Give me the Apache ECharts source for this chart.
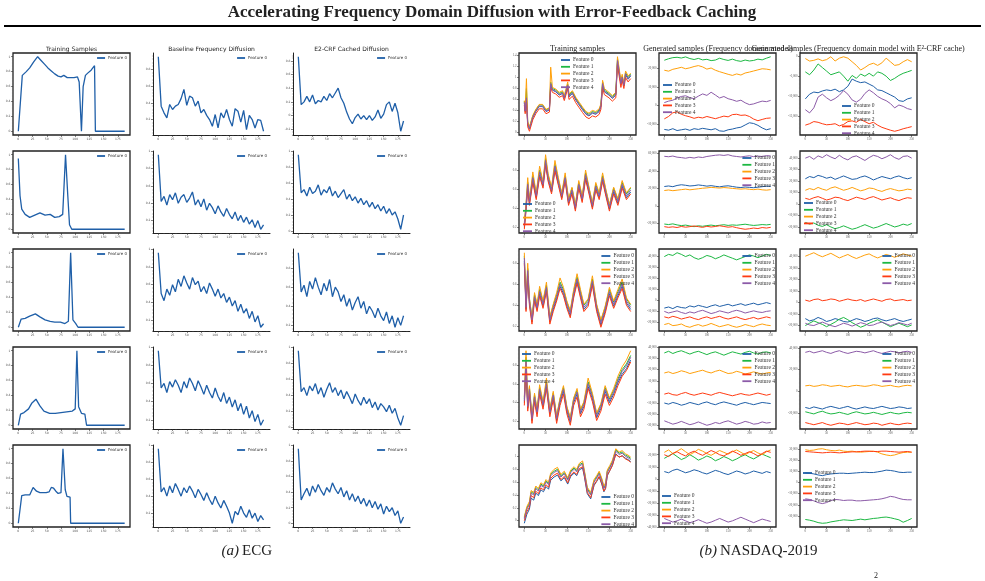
<!DOCTYPE html>
<html>
<head>
<meta charset="utf-8">
<script src="https://cdn.jsdelivr.net/npm/echarts@6/dist/echarts.min.js"></script>
<style>
html, body { margin: 0; padding: 0; background: #fff; }
#main { width: 985px; height: 581px; }
</style>
</head>
<body>
<div id="main"></div>
<script>
// ---------- data: ECG (left block) ----------
var ecgTicks = [0, 25, 50, 75, 100, 125, 150, 175];
var ecgSteps = [0,5,10,15,20,25,30,35,40,45,50,55,60,65,70,75,80,85,90,95,100,105,110,115,120,125,130,135,140,145,150,155,160,165,170,175,180,185];

var ecgTrainX1 = [0,7,10,14,20,27,34,40,46,52,58,64,70,75,80,86,92,98,104,107,111,114,118,122,128,134,135.5,187];
var ecgTrainY1 = [0.0,0.75,0.77,0.8,0.85,0.93,1.0,0.95,0.9,0.85,0.81,0.77,0.74,0.73,0.75,0.72,0.72,0.72,0.73,0.66,0.0,0.6,0.75,0.78,0.82,0.88,0.0,0.0];
var ecgTrainX2 = [0,3,6,12,20,29,38,47,56,64,72,78,83,87,90,94,187];
var ecgTrainY2 = [0.95,0.45,0.27,0.2,0.16,0.19,0.22,0.19,0.2,0.16,0.17,0.2,1.0,0.45,0.06,0.0,0.0];
var ecgTrainX3 = [0,5,12,20,30,38,47,56,64,74,82,88,92,96,101,105,187];
var ecgTrainY3 = [0.0,0.11,0.12,0.15,0.18,0.14,0.1,0.08,0.07,0.07,0.05,0.08,1.0,0.1,0.05,0.0,0.0];
var ecgTrainX4 = [0,4,10,18,24,31,38,45,55,65,75,85,95,100,103,106,111,117,120,187];
var ecgTrainY4 = [0.0,0.15,0.17,0.22,0.3,0.35,0.26,0.19,0.16,0.16,0.17,0.18,0.19,0.22,1.0,0.25,0.16,0.15,0.0,0.0];
var ecgTrainX5 = [0,6,12,20,26,32,38,44,49,54,58,62,66,70,75,78.5,82.5,85.5,91,92,187];
var ecgTrainY5 = [0.0,0.37,0.38,0.38,0.48,0.43,0.41,0.41,0.41,0.42,0.48,0.47,0.43,0.4,0.41,1.0,0.45,0.36,0.35,0.0,0.0];

var ecgBase1 = [0.95,0.36,0.28,0.22,0.38,0.32,0.36,0.38,0.45,0.56,0.37,0.48,0.46,0.36,0.42,0.28,0.32,0.25,0.2,0.12,0.26,0.1,0.28,0.22,0.32,0.2,0.12,0.33,0.3,0.17,0.31,0.08,0.25,0.2,0.1,0.2,0.19,0.06];
var ecgBase2 = [0.96,0.42,0.48,0.38,0.5,0.44,0.52,0.4,0.47,0.5,0.41,0.46,0.53,0.38,0.44,0.36,0.45,0.32,0.4,0.35,0.28,0.37,0.3,0.25,0.34,0.27,0.22,0.3,0.2,0.26,0.18,0.24,0.16,0.21,0.12,0.2,0.1,0.15];
var ecgBase3 = [0.96,0.5,0.42,0.55,0.48,0.6,0.52,0.66,0.58,0.7,0.62,0.55,0.68,0.6,0.64,0.52,0.58,0.5,0.62,0.55,0.47,0.55,0.45,0.5,0.4,0.46,0.36,0.42,0.3,0.38,0.28,0.33,0.22,0.3,0.18,0.25,0.12,0.16];
var ecgBase4 = [0.96,0.55,0.6,0.5,0.62,0.56,0.64,0.58,0.5,0.62,0.55,0.66,0.6,0.52,0.63,0.56,0.48,0.58,0.5,0.44,0.55,0.46,0.4,0.5,0.38,0.45,0.34,0.42,0.3,0.38,0.26,0.35,0.22,0.3,0.18,0.26,0.14,0.2];
var ecgBase5 = [0.96,0.45,0.5,0.4,0.52,0.44,0.55,0.48,0.4,0.5,0.44,0.52,0.46,0.38,0.48,0.42,0.35,0.44,0.36,0.3,0.4,0.32,0.26,0.35,0.28,0.2,0.08,0.22,0.18,0.28,0.2,0.15,0.24,0.14,0.2,0.1,0.17,0.12];

var ecgCrf1 = [0.86,0.16,0.2,0.28,0.2,0.3,0.17,0.22,0.2,0.28,0.22,0.32,0.26,0.33,0.4,0.26,0.18,0.05,-0.05,-0.12,-0.03,0.02,-0.05,0.0,-0.06,0.0,-0.07,-0.02,0.08,-0.04,0.02,0.16,0.2,0.06,0.18,0.04,-0.23,-0.08];
var ecgCrf2 = [0.96,0.48,0.52,0.44,0.55,0.47,0.5,0.58,0.45,0.52,0.48,0.56,0.44,0.5,0.42,0.47,0.52,0.4,0.46,0.38,0.43,0.35,0.41,0.33,0.38,0.3,0.36,0.28,0.33,0.25,0.31,0.22,0.28,0.2,0.24,0.15,0.02,0.2];
var ecgCrf3 = [0.96,0.55,0.62,0.5,0.66,0.58,0.7,0.6,0.52,0.64,0.56,0.68,0.5,0.6,0.55,0.45,0.52,0.4,0.48,0.36,0.44,0.5,0.38,0.45,0.32,0.4,0.35,0.28,0.38,0.3,0.25,0.34,0.22,0.3,0.18,0.28,0.2,0.3];
var ecgCrf4 = [0.96,0.45,0.5,0.4,0.52,0.46,0.55,0.42,0.5,0.38,0.48,0.56,0.44,0.5,0.4,0.47,0.36,0.45,0.38,0.3,0.42,0.34,0.28,0.38,0.3,0.36,0.25,0.32,0.22,0.3,0.26,0.2,0.28,0.18,0.24,0.12,0.03,0.15];
var ecgCrf5 = [0.96,0.3,0.38,0.45,0.35,0.48,0.4,0.5,0.42,0.36,0.46,0.4,0.52,0.44,0.38,0.46,0.34,0.42,0.3,0.38,0.28,0.35,0.25,0.32,0.22,0.3,0.2,0.28,0.18,0.25,0.12,0.22,0.15,0.2,0.1,0.16,0.0,0.08];

// ---------- data: NASDAQ-2019 (right block), features 0..4 ----------
var featureNames = ['Feature 0', 'Feature 1', 'Feature 2', 'Feature 3', 'Feature 4'];
var nqTicks = [0, 50, 100, 150, 200, 250];
var nqSteps = [0,10,20,30,40,50,60,70,80,90,100,110,120,130,140,150,160,170,180,190,200,210,220,230,240,250];

var nqTrainX1 = [0,2,5,8,12,20,27,35,43,51,59,62,66,74,82,90,94,102,105,113,121,129,137,145,152,160,168,176,180,184,188,199,207,215,219,223,227,230,234,238,244,250];
var nqTrain1 = [
  [0.54,0.38,0.6,0.15,0.06,0.27,0.38,0.47,0.47,0.38,0.41,0.86,0.77,0.74,0.68,0.71,0.62,0.84,0.65,0.71,0.59,0.5,0.41,0.33,0.3,0.35,0.33,0.38,0.47,0.86,0.74,0.68,0.62,0.68,1.28,1.08,0.88,1.0,0.85,1.05,0.97,1.03],
  [0.57,0.4,0.8,0.18,0.09,0.3,0.41,0.5,0.5,0.41,0.44,0.92,0.8,0.77,0.71,0.74,0.65,0.88,0.68,0.74,0.62,0.53,0.44,0.36,0.33,0.38,0.36,0.41,0.5,0.92,0.77,0.71,0.65,0.71,1.34,1.12,0.91,1.03,0.88,1.09,1.0,1.06],
  [0.58,0.42,0.98,0.2,0.1,0.31,0.42,0.51,0.51,0.42,0.45,1.19,0.82,0.79,0.73,0.76,0.67,0.92,0.7,0.76,0.64,0.55,0.46,0.38,0.35,0.4,0.38,0.43,0.52,0.95,0.8,0.73,0.67,0.73,1.38,1.16,0.94,1.06,0.9,1.12,1.03,1.08],
  [0.5,0.34,0.56,0.1,0.02,0.23,0.34,0.43,0.43,0.34,0.37,0.82,0.73,0.7,0.64,0.67,0.58,0.8,0.6,0.66,0.54,0.45,0.36,0.28,0.25,0.3,0.28,0.33,0.42,0.82,0.69,0.63,0.57,0.63,1.24,1.02,0.82,0.95,0.8,1.0,0.92,0.98],
  [0.55,0.39,0.63,0.16,0.07,0.28,0.39,0.48,0.48,0.39,0.42,0.89,0.78,0.75,0.69,0.72,0.63,0.86,0.66,0.72,0.6,0.51,0.42,0.34,0.31,0.36,0.34,0.39,0.48,0.89,0.75,0.69,0.63,0.69,1.31,1.1,0.89,1.01,0.86,1.07,0.98,1.04]
];
var nqTrainX2 = [0,4,8,12,16,20,28,36,44,50,56,64,72,80,88,96,104,112,120,128,136,144,152,160,168,176,184,192,200,210,220,230,240,250];
var nqTrain2 = [
  [0.2,0.39,0.62,0.45,0.57,0.69,0.51,0.75,0.63,0.87,0.7,0.57,0.81,0.66,0.51,0.7,0.45,0.57,0.39,0.63,0.48,0.72,0.57,0.41,0.61,0.51,0.7,0.54,0.39,0.57,0.45,0.63,0.51,0.57],
  [0.23,0.43,0.67,0.49,0.61,0.74,0.55,0.8,0.67,0.92,0.74,0.61,0.86,0.7,0.55,0.74,0.49,0.61,0.43,0.67,0.52,0.77,0.61,0.45,0.65,0.55,0.74,0.58,0.43,0.61,0.49,0.67,0.55,0.61],
  [0.25,0.45,0.72,0.5,0.63,0.78,0.56,0.84,0.68,0.96,0.76,0.62,0.9,0.72,0.56,0.77,0.5,0.62,0.44,0.69,0.53,0.8,0.62,0.46,0.67,0.56,0.77,0.59,0.44,0.62,0.5,0.69,0.56,0.62],
  [0.18,0.37,0.6,0.43,0.55,0.67,0.49,0.73,0.61,0.85,0.68,0.55,0.79,0.64,0.49,0.68,0.43,0.55,0.37,0.61,0.46,0.7,0.55,0.39,0.59,0.49,0.68,0.52,0.37,0.55,0.43,0.61,0.49,0.55],
  [0.22,0.41,0.65,0.47,0.59,0.72,0.53,0.78,0.65,0.9,0.72,0.59,0.84,0.68,0.53,0.72,0.47,0.59,0.41,0.65,0.5,0.75,0.59,0.43,0.63,0.53,0.72,0.56,0.41,0.59,0.47,0.65,0.53,0.59]
];
var nqTrainX3 = [0,4,8,12,18,24,30,36,44,52,60,68,76,84,92,100,108,116,124,132,140,150,160,170,180,190,200,210,220,230,240,250];
var nqTrain3 = [
  [0.82,0.36,0.7,0.42,0.24,0.46,0.36,0.51,0.39,0.55,0.24,0.36,0.46,0.58,0.51,0.39,0.3,0.49,0.63,0.49,0.36,0.41,0.61,0.36,0.21,0.34,0.51,0.39,0.49,0.58,0.42,0.36],
  [0.87,0.4,0.75,0.46,0.28,0.5,0.4,0.55,0.43,0.59,0.28,0.4,0.5,0.62,0.55,0.43,0.34,0.53,0.67,0.53,0.4,0.45,0.65,0.4,0.25,0.38,0.55,0.43,0.53,0.62,0.46,0.4],
  [0.9,0.42,0.8,0.47,0.28,0.52,0.41,0.58,0.44,0.62,0.29,0.41,0.52,0.66,0.57,0.44,0.35,0.55,0.7,0.55,0.41,0.46,0.68,0.41,0.26,0.39,0.57,0.44,0.55,0.65,0.47,0.41],
  [0.8,0.34,0.68,0.4,0.22,0.44,0.34,0.49,0.37,0.53,0.22,0.34,0.44,0.56,0.49,0.37,0.28,0.47,0.61,0.47,0.34,0.39,0.59,0.34,0.19,0.32,0.49,0.37,0.47,0.56,0.4,0.34],
  [0.85,0.38,0.73,0.44,0.26,0.48,0.38,0.53,0.41,0.57,0.26,0.38,0.48,0.6,0.53,0.41,0.32,0.51,0.65,0.51,0.38,0.43,0.63,0.38,0.23,0.36,0.53,0.41,0.51,0.6,0.44,0.38]
];
var nqTrainX4 = [0,4,8,12,18,24,30,36,44,52,60,68,76,84,92,100,108,116,124,132,140,150,160,170,180,190,200,210,220,230,240,250];
var nqTrain4 = [
  [0.4,0.8,0.34,0.52,0.21,0.44,0.28,0.52,0.36,0.57,0.28,0.46,0.21,0.4,0.52,0.31,0.19,0.4,0.49,0.28,0.36,0.57,0.44,0.24,0.34,0.52,0.4,0.49,0.61,0.7,0.76,0.85],
  [0.44,0.88,0.38,0.56,0.25,0.48,0.32,0.56,0.4,0.62,0.32,0.5,0.25,0.44,0.56,0.35,0.23,0.44,0.53,0.32,0.4,0.62,0.48,0.28,0.38,0.56,0.44,0.53,0.65,0.75,0.81,0.9],
  [0.46,0.95,0.39,0.58,0.26,0.5,0.33,0.59,0.41,0.66,0.33,0.52,0.26,0.45,0.58,0.36,0.24,0.45,0.55,0.33,0.41,0.66,0.5,0.29,0.39,0.58,0.45,0.55,0.68,0.78,0.85,0.95],
  [0.37,0.78,0.31,0.49,0.18,0.41,0.25,0.49,0.33,0.55,0.25,0.43,0.18,0.37,0.49,0.28,0.16,0.37,0.46,0.25,0.33,0.55,0.41,0.21,0.31,0.49,0.37,0.46,0.58,0.68,0.74,0.83],
  [0.42,0.85,0.36,0.54,0.23,0.46,0.3,0.54,0.38,0.6,0.3,0.48,0.23,0.42,0.54,0.33,0.21,0.42,0.51,0.3,0.38,0.6,0.46,0.26,0.36,0.54,0.42,0.51,0.63,0.73,0.79,0.88]
];
var nqTrainX5 = [0,6,12,16,22,27,33,39,45,51,57,62,70,78,86,94,102,109,117,123,129,137,141,148,156,164,170,176,182,187,191,195,201,207,215,223,230,238,244,250];
var nqTrain5 = [
  [-0.04,0.1,0.18,0.35,0.32,0.43,0.39,0.48,0.45,0.53,0.49,0.63,0.68,0.71,0.62,0.67,0.57,0.69,0.74,0.7,0.79,0.82,0.69,0.42,0.34,0.55,0.61,0.68,0.57,0.45,0.5,0.7,0.78,0.86,1.04,0.99,1.01,0.97,0.95,0.92],
  [0.05,0.2,0.27,0.45,0.42,0.52,0.48,0.57,0.54,0.62,0.58,0.72,0.77,0.8,0.7,0.75,0.65,0.77,0.82,0.78,0.87,0.9,0.77,0.5,0.42,0.62,0.68,0.75,0.64,0.52,0.57,0.77,0.84,0.92,1.1,1.05,1.07,1.02,1.0,0.97],
  [0.06,0.22,0.3,0.47,0.44,0.54,0.5,0.59,0.56,0.64,0.6,0.74,0.8,0.83,0.72,0.77,0.67,0.79,0.84,0.8,0.89,0.93,0.79,0.52,0.44,0.64,0.7,0.77,0.66,0.54,0.59,0.79,0.86,0.94,1.12,1.07,1.09,1.04,1.02,0.99],
  [0.0,0.14,0.21,0.39,0.36,0.46,0.42,0.51,0.48,0.56,0.52,0.66,0.71,0.74,0.64,0.69,0.59,0.71,0.76,0.72,0.81,0.84,0.71,0.44,0.36,0.56,0.62,0.69,0.58,0.46,0.51,0.71,0.78,0.86,1.03,0.99,1.01,0.96,0.94,0.91],
  [0.03,0.18,0.25,0.43,0.4,0.5,0.46,0.55,0.52,0.6,0.56,0.7,0.75,0.78,0.68,0.73,0.63,0.75,0.8,0.76,0.85,0.88,0.75,0.48,0.4,0.6,0.66,0.73,0.62,0.5,0.55,0.75,0.82,0.9,1.08,1.03,1.05,1.0,0.98,0.95]
];

// generated samples, frequency-domain model
var nqFreq1 = [
  [-13000,-13400,-12600,-13600,-13200,-12800,-13500,-12600,-13000,-12400,-12800,-13200,-12600,-13800,-14000,-13200,-12800,-12200,-11800,-10600,-9400,-9800,-10800,-12200,-13200,-12600],
  [24400,25200,25800,26000,25600,26200,25300,24800,25400,24600,24900,24200,24500,25500,24800,24300,25000,24200,23800,24500,24000,24300,25000,24600,25500,26300],
  [19000,18500,19500,20000,20600,19800,20300,21000,21500,20800,19600,20200,19000,18200,17500,16800,16200,17000,16400,17500,18000,18600,19200,19800,19600,19200],
  [-7300,-6000,-4000,-3500,-4800,-5600,-6200,-7000,-6400,-6800,-6000,-6600,-7200,-6500,-5800,-6200,-5000,-4800,-5400,-5200,-6000,-7400,-8300,-7600,-7000,-6800],
  [1500,2300,2800,4000,4800,5200,4200,3600,5000,6200,5400,7100,5600,4000,4800,3600,3000,2200,2800,1400,400,800,1600,2300,2000,2700]
];
var nqFreq2 = [
  [22400,23000,22200,23600,24400,23800,23000,23400,24200,23600,22800,23400,22600,22000,22800,23200,22400,21600,21200,21800,21400,21000,21600,22200,22800,22400],
  [-20600,-21200,-20400,-21600,-22400,-21800,-22800,-23600,-22600,-23200,-22400,-21800,-22600,-22000,-21400,-22200,-21600,-22000,-21400,-20800,-21600,-22200,-21800,-21200,-21600,-21000],
  [17800,18400,17600,18200,18800,19400,18600,19200,19800,20400,20800,21400,21000,20600,21200,20800,20200,19800,19400,19800,19200,18800,19400,18600,18200,18800],
  [-23600,-24400,-23800,-24600,-23400,-24200,-23600,-22800,-23600,-24400,-23200,-24000,-23400,-22600,-23400,-24200,-23600,-24800,-25800,-26600,-26000,-25200,-25800,-24600,-25200,-24400],
  [57000,56500,57300,56000,55500,54800,55800,55000,56200,55600,56800,57500,58200,58600,58000,58800,57400,56800,56200,57000,57600,56600,57200,56800,57800,57400]
];
var nqFreq3 = [
  [-7000,-6000,-7500,-5500,-6500,-7000,-5000,-6000,-4500,-5500,-6500,-5000,-4000,-5500,-4500,-3500,-5000,-4000,-3000,-4500,-3500,-2500,-4000,-3000,-2000,-3000],
  [40000,42000,41000,43500,42000,40000,41500,39000,37500,39000,41000,40000,38000,39500,41500,40000,38500,37000,38500,40000,41500,40500,39000,40500,42000,41000],
  [-22000,-21000,-23000,-22500,-21500,-23500,-24500,-23000,-22000,-23500,-22500,-21000,-22500,-24000,-23000,-22000,-23500,-24500,-23500,-22000,-23000,-24000,-22500,-21500,-22500,-23000],
  [-15000,-16000,-14500,-15500,-17000,-16000,-15000,-16500,-17500,-16000,-15000,-16500,-15500,-14500,-16000,-17000,-16000,-15000,-16500,-17500,-16500,-15500,-17000,-16000,-15000,-16000],
  [-10000,-11500,-10500,-9500,-11000,-12000,-10500,-11500,-10000,-9000,-10500,-12000,-11000,-9500,-10500,-11500,-10000,-9000,-10000,-11500,-10500,-9500,-10500,-11000,-10000,-9500]
];
var nqFreq4 = [
  [-10000,-11000,-9500,-10500,-12000,-11000,-9500,-10500,-11500,-10000,-9000,-10500,-11500,-10000,-9000,-10000,-11000,-12000,-10500,-9500,-10500,-11500,-10500,-9500,-10000,-10500],
  [35000,36500,34500,36000,37000,35500,34000,35500,36500,35000,33500,35000,36000,34500,33000,34500,36000,35000,34000,35500,36500,35000,34000,35500,36000,35000],
  [17000,18000,16500,17500,19000,18000,16500,17500,18500,19500,18000,17000,18500,19500,18000,16500,17000,18500,17500,16000,17000,18000,17000,16000,17000,17500],
  [-2000,-1000,-2500,-3000,-1500,-500,-2000,-3000,-2000,-1000,-2000,-3000,-1500,-500,-1500,-2500,-3500,-2500,-1500,-2500,-3000,-2000,-1000,-2000,-3000,-2000],
  [-26000,-27500,-29000,-28000,-26500,-28000,-29500,-28500,-27000,-28500,-30000,-29000,-27500,-28500,-27000,-26000,-27500,-29000,-28000,-26500,-27500,-29000,-28500,-27000,-28000,-27500]
];
var nqFreq5 = [
  [6000,5000,7000,8000,6500,5000,6000,7500,6500,5000,4000,5500,7000,6000,4500,3500,5000,6500,5500,4000,5000,6500,5500,4500,6000,5000],
  [17000,19000,21000,18500,16000,17500,20000,18000,15500,17000,19000,17500,15000,16500,18500,17000,15000,16500,18500,20000,18000,16500,18500,20500,19000,17500],
  [22000,24000,21000,23000,25000,22500,20000,22000,24500,23000,21000,19500,21500,23500,22000,20500,22500,24000,22000,20000,22000,23500,21500,20000,22500,24000],
  [20000,18500,21000,22500,20500,19000,21500,23000,21000,19500,21500,23500,22000,20000,19000,21000,23000,21500,19500,21000,22500,21000,19000,21000,23000,22000],
  [-33000,-34500,-36000,-35000,-33500,-35000,-36500,-35500,-34000,-35500,-37000,-36000,-34500,-33000,-34500,-36000,-35000,-33500,-32000,-33500,-35000,-36500,-35000,-33500,-34500,-35500]
];

// generated samples, frequency-domain model with E2-CRF cache
var nqCrf1 = [
  [-10700,-9510,-8970,-9150,-8700,-8430,-8610,-8250,-8880,-8430,-7520,-5710,-6250,-6610,-6430,-6980,-7520,-8430,-8610,-9150,-9690,-10240,-11140,-11330,-10700,-10420],
  [-3900,-4620,-3440,-1900,-2810,-3710,-4620,-4260,-3900,-4980,-6250,-4800,-5530,-4440,-4980,-4260,-4980,-3900,-4260,-4980,-6070,-5530,-4800,-4260,-3900,-3530],
  [-540,-1180,-1000,-630,-1090,-815,-90,-1180,-450,-100,-450,-1360,-2270,-3440,-2810,-2080,-1720,-2270,-1630,-450,-1360,-2270,-2080,-1360,-815,-1360],
  [-17300,-16940,-16400,-16580,-16940,-17210,-17120,-16940,-17490,-17120,-16400,-16220,-16580,-15860,-16400,-16940,-16580,-17300,-17850,-18210,-18570,-18840,-18570,-18210,-17940,-17670],
  [-13410,-14220,-12960,-10240,-9510,-10420,-11140,-10600,-9780,-8610,-9510,-10960,-11510,-10780,-9330,-8430,-9150,-10060,-10690,-11140,-11870,-12960,-12230,-12590,-13140,-13410]
];
var nqCrf2 = [
  [22000,24000,23000,25000,24000,22500,23500,21500,23000,24500,23000,21500,22000,23500,24500,23000,21000,22500,24000,23000,22000,23500,24500,23000,22000,23000],
  [-16000,-17500,-16500,-18500,-19500,-18000,-20000,-21500,-20500,-19000,-20500,-22000,-21000,-19500,-18000,-19500,-21000,-20000,-18500,-17000,-18500,-20000,-19000,-17500,-18500,-17000],
  [12000,13500,12500,14500,13000,12000,14000,15000,13500,12000,13000,14500,13000,11500,12500,14000,13500,12000,11000,12500,13500,12500,11500,12000,13000,12500],
  [5000,4000,5500,6500,5000,3500,4500,6000,5500,4000,3000,4500,6000,5000,4000,5500,6500,5000,3500,4500,5500,4000,3000,4500,5500,5000],
  [40000,41500,39000,42000,40500,43000,41000,39500,42500,40000,38500,41000,42000,40000,38000,40500,42500,41500,39500,41000,43000,40500,39000,41500,42000,40000]
];
var nqCrf3 = [
  [-14000,-16000,-15000,-13000,-14500,-16500,-15500,-14000,-15000,-16500,-17000,-15500,-14000,-15000,-16500,-15500,-14000,-13500,-15000,-16000,-15000,-14000,-15500,-16500,-15500,-14500],
  [-20000,-18000,-16000,-17500,-19000,-21000,-19000,-17000,-14500,-13000,-15000,-17500,-19500,-21500,-20000,-18000,-16500,-15000,-17000,-19000,-21000,-19500,-18000,-19500,-21000,-19500],
  [40000,41500,43000,41000,39500,41000,42500,40500,38500,40000,41500,39500,38000,39500,41000,42000,40000,38500,40000,41500,40500,39000,40500,42000,41000,40000],
  [2000,1000,2500,3000,1500,2000,3000,2500,1000,2000,3000,2000,1500,2500,1000,2000,3000,2000,1000,2500,3000,1500,2000,2500,1500,2000],
  [-18000,-19500,-20000,-18500,-17000,-18500,-20000,-21000,-19500,-18000,-19000,-20500,-19000,-17500,-18500,-20000,-19500,-18000,-17000,-18500,-20000,-19000,-17500,-18500,-19500,-18000]
];
var nqCrf4 = [
  [-15000,-16000,-14500,-15500,-16500,-15000,-14000,-15000,-16000,-15000,-14000,-15500,-16500,-15500,-14500,-15500,-16000,-15000,-14000,-15000,-16000,-15500,-14500,-15000,-16000,-15500],
  [-19000,-20000,-21000,-19500,-18500,-20000,-21000,-20500,-19500,-20500,-21500,-20000,-19000,-20000,-21000,-20500,-19500,-20500,-21500,-20500,-19500,-20500,-21000,-20000,-19500,-20000],
  [5000,5500,4500,5000,6000,5500,4500,5000,5500,4500,4000,5000,5500,5000,4500,5000,6000,5500,4500,5000,5500,4500,4000,5000,5500,5000],
  [-29000,-30000,-31000,-30000,-29000,-30500,-31500,-30500,-29500,-30000,-31000,-30000,-29000,-30000,-31000,-30500,-29500,-30000,-31500,-30500,-29500,-30500,-31000,-30000,-29500,-30000],
  [36000,37000,35500,36500,37500,36000,35000,36500,37500,36000,35000,36000,37000,36500,35500,36500,37500,36000,35000,36000,37000,36500,35500,36500,37000,36000]
];
var nqCrf5 = [
  [8680,8370,7750,6820,6200,7130,7750,8060,8370,8370,8060,8370,8680,8990,9300,8990,8990,9610,10230,11160,10850,10230,9300,8990,9300,9300],
  [-33170,-33790,-34720,-35960,-36580,-36270,-35340,-34720,-34100,-33480,-33790,-34100,-33480,-32860,-33480,-32860,-32240,-31930,-31310,-31000,-31620,-32550,-33480,-35650,-34100,-32240],
  [29450,28830,29140,30070,30380,29450,28830,28520,29140,28210,27900,28210,27590,27280,27590,27900,28210,27280,25730,24800,24180,24800,26040,26970,27280,27280],
  [27900,27590,27280,26970,26660,26970,27280,26970,26660,26970,27280,27590,27590,27900,28210,28210,27900,27900,28210,28210,27900,27590,27280,27590,27900,27280],
  [-14570,-15190,-16430,-17980,-18910,-17980,-16120,-15190,-15500,-16120,-15810,-15810,-16430,-16430,-16120,-15810,-15500,-15190,-14570,-13640,-12400,-13020,-14260,-15190,-15500,-15500]
];

// ---------- layout / styling ----------
var W = 985;
var featureColors = ['#1f5fa8', '#1db843', '#ffa00a', '#ff3b12', '#8c5ba8'];
var ecgColor = '#1f5fa8';
var sansFont = '"DejaVu Sans", sans-serif';
var serifFont = '"Liberation Serif", "DejaVu Serif", serif';
var rowTop = [53, 151, 249, 347, 445];
var ecgLeft = [13, 153, 293];
var nqLeft = [519, 659, 800];
var panelW = 117, panelH = 82;

var grids = [], xAxes = [], yAxes = [], series = [], legends = [];

function niceTicks(lo, hi) {
  var raw = (hi - lo) / 5;
  var mag = Math.pow(10, Math.floor(Math.log10(raw)));
  var n = raw / mag;
  var step = (n < 1.5 ? 1 : n < 3 ? 2 : n < 7 ? 5 : 10) * mag;
  var out = [];
  for (var v = Math.ceil(lo / step) * step; v <= hi + 1e-9; v += step) out.push(+v.toFixed(6));
  return out;
}

function axisStyle(ticks, boxed, font) {
  return {
    axisLine: { show: !boxed, onZero: false, lineStyle: { color: '#222', width: 1 } },
    axisTick: { show: true, length: 2, customValues: ticks, lineStyle: { color: '#333', width: 0.6 } },
    minorTick: { show: true, splitNumber: 5, length: 1.1, lineStyle: { color: '#666', width: 0.4 } },
    axisLabel: { customValues: ticks, fontSize: 3, color: '#555', margin: 2.5, fontFamily: font },
    splitLine: { show: false }
  };
}

function addPanel(p) {
  var idx = grids.length;
  grids.push({
    left: p.left, top: p.top, width: panelW, height: panelH,
    show: p.boxed, borderColor: '#222', borderWidth: p.boxed ? 1.3 : 0,
    backgroundColor: 'transparent'
  });
  var lo = Infinity, hi = -Infinity;
  p.lines.forEach(function (l) {
    l.ys.forEach(function (v) { if (v < lo) lo = v; if (v > hi) hi = v; });
  });
  var pad = (hi - lo) * 0.05;
  var yMin = lo - pad, yMax = hi + pad;
  xAxes.push(Object.assign({ gridIndex: idx, type: 'value', min: p.xMin, max: p.xMax },
    axisStyle(p.xTicks, p.boxed, p.font)));
  yAxes.push(Object.assign({ gridIndex: idx, type: 'value', min: yMin, max: yMax },
    axisStyle(niceTicks(yMin, yMax), p.boxed, p.font)));
  p.lines.forEach(function (l) {
    series.push({
      type: 'line', name: l.name, xAxisIndex: idx, yAxisIndex: idx,
      data: l.xs.map(function (x, i) { return [x, l.ys[i]]; }),
      symbol: 'none', showSymbol: false, silent: true,
      lineStyle: { width: p.lineWidth, color: l.color },
      itemStyle: { color: l.color }
    });
  });
  legends.push(Object.assign({
    data: p.lines.map(function (l) { return l.name; }),
    orient: 'vertical', align: 'left', icon: 'rect', selectedMode: false,
    itemWidth: p.legendLine, itemHeight: 1.8, itemGap: p.legendGap, padding: 0,
    textStyle: { fontSize: p.legendSize, fontFamily: p.font, color: '#333', padding: [0, 0, 0, -2] }
  }, p.legendPos));
}

// ECG block
var ecgTrainX = [ecgTrainX1, ecgTrainX2, ecgTrainX3, ecgTrainX4, ecgTrainX5];
var ecgTrainY = [ecgTrainY1, ecgTrainY2, ecgTrainY3, ecgTrainY4, ecgTrainY5];
var ecgBase = [ecgBase1, ecgBase2, ecgBase3, ecgBase4, ecgBase5];
var ecgCrf = [ecgCrf1, ecgCrf2, ecgCrf3, ecgCrf4, ecgCrf5];
for (var r = 0; r < 5; r++) {
  var cols = [
    { xs: ecgTrainX[r], ys: ecgTrainY[r], boxed: true },
    { xs: ecgSteps, ys: ecgBase[r], boxed: false },
    { xs: ecgSteps, ys: ecgCrf[r], boxed: false }
  ];
  cols.forEach(function (c, ci) {
    addPanel({
      left: ecgLeft[ci], top: rowTop[r], boxed: c.boxed, font: sansFont,
      xMin: -9.35, xMax: 196.35, xTicks: ecgTicks, lineWidth: 1.3,
      lines: [{ name: featureNames[0], color: ecgColor, xs: c.xs, ys: c.ys }],
      legendLine: 8, legendGap: 2, legendSize: 4,
      legendPos: { right: W - (ecgLeft[ci] + panelW) + 3, top: rowTop[r] + 3 }
    });
  });
}

// NASDAQ block
var nqTrainX = [nqTrainX1, nqTrainX2, nqTrainX3, nqTrainX4, nqTrainX5];
var nqTrain = [nqTrain1, nqTrain2, nqTrain3, nqTrain4, nqTrain5];
var nqFreq = [nqFreq1, nqFreq2, nqFreq3, nqFreq4, nqFreq5];
var nqCrf = [nqCrf1, nqCrf2, nqCrf3, nqCrf4, nqCrf5];
var nqLegendPos = [
  [{ left: 561, top: 57 }, { left: 663, top: 82 }, { left: 842, top: 103 }],
  [{ left: 523, top: 201 }, { right: 210, top: 155 }, { left: 804, top: 200 }],
  [{ right: 351, top: 253 }, { right: 210, top: 253 }, { right: 70, top: 253 }],
  [{ left: 522, top: 351 }, { right: 210, top: 351 }, { right: 70, top: 351 }],
  [{ right: 351, top: 494 }, { left: 662, top: 493 }, { left: 803, top: 470 }]
];
for (var r2 = 0; r2 < 5; r2++) {
  var sets = [
    { xs: nqTrainX[r2], ys: nqTrain[r2] },
    { xs: nqSteps, ys: nqFreq[r2] },
    { xs: nqSteps, ys: nqCrf[r2] }
  ];
  sets.forEach(function (s, ci) {
    addPanel({
      left: nqLeft[ci], top: rowTop[r2], boxed: true, font: serifFont,
      xMin: -12.5, xMax: 262.5, xTicks: nqTicks, lineWidth: 1.0,
      lines: featureNames.map(function (nm, fi) {
        return { name: nm, color: featureColors[fi], xs: s.xs, ys: s.ys[fi] };
      }),
      legendLine: 9, legendGap: 0.8, legendSize: 5.5,
      legendPos: nqLegendPos[r2][ci]
    });
  });
}

function label(text, x, y, font, align) {
  return {
    type: 'text', x: x, y: y, silent: true,
    style: { text: text, font: font, fill: '#222', textAlign: align || 'center', textVerticalAlign: 'middle' }
  };
}

var graphics = [
  label('Accelerating Frequency Domain Diffusion with Error-Feedback Caching', 492, 13, 'bold 17px ' + serifFont),
  { type: 'line', silent: true, shape: { x1: 4, y1: 26, x2: 981, y2: 26 }, style: { stroke: '#000', lineWidth: 2 } },
  label('Training Samples', 71.5, 49, '6px ' + sansFont),
  label('Baseline Frequency Diffusion', 211.5, 49, '6px ' + sansFont),
  label('E2-CRF Cached Diffusion', 351.5, 49, '6px ' + sansFont),
  label('Training samples', 577.5, 49, '8px ' + serifFont),
  label('Generated samples (Frequency domain model)', 718, 49, '8px ' + serifFont),
  label('Generated samples (Frequency domain model with E\u00b2-CRF cache)', 858, 49, '8px ' + serifFont),
  label('(a)', 239, 551, 'italic 15px ' + serifFont, 'right'),
  label('ECG', 242, 551, '15px ' + serifFont, 'left'),
  label('(b)', 717, 551, 'italic 15px ' + serifFont, 'right'),
  label('NASDAQ-2019', 720, 551, '15px ' + serifFont, 'left'),
  label('2', 876, 576, '8px ' + serifFont)
];

var chart = echarts.init(document.getElementById('main'));
chart.setOption({
  animation: false,
  backgroundColor: '#fff',
  grid: grids,
  xAxis: xAxes,
  yAxis: yAxes,
  legend: legends,
  series: series,
  graphic: graphics
});
</script>
</body>
</html>
